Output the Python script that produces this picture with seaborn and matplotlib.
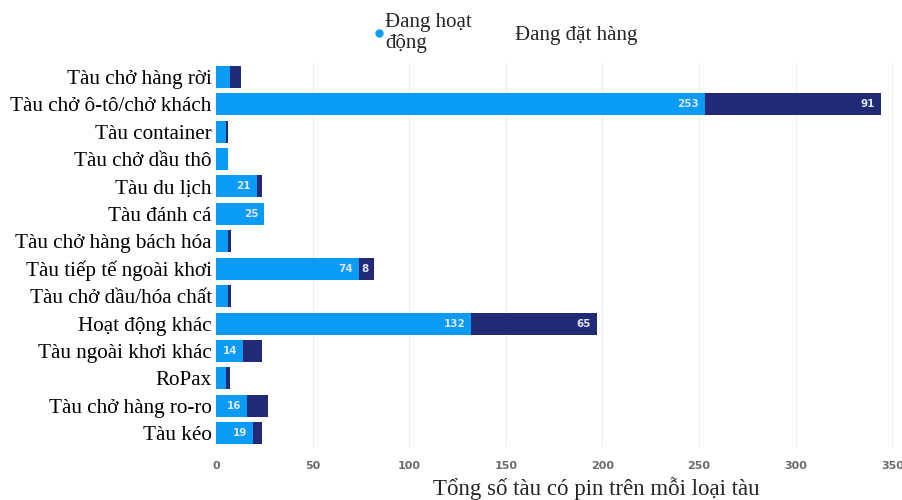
import matplotlib
matplotlib.use("Agg")
import matplotlib.pyplot as plt
from matplotlib.lines import Line2D
import seaborn as sns
import pandas as pd

categories = [
    "Tàu chở hàng rời", "Tàu chở ô-tô/chở khách", "Tàu container", "Tàu chở dầu thô",
    "Tàu du lịch", "Tàu đánh cá", "Tàu chở hàng bách hóa", "Tàu tiếp tế ngoài khơi",
    "Tàu chở dầu/hóa chất", "Hoạt động khác", "Tàu ngoài khơi khác", "RoPax",
    "Tàu chở hàng ro-ro", "Tàu kéo",
]
active = [7, 253, 5, 6, 21, 25, 6, 74, 6, 132, 14, 5, 16, 19]
ordered = [6, 91, 1, 0, 3, 0, 2, 8, 2, 65, 10, 2, 11, 5]
# which "ordered" segments carry a value label
ordered_labeled = [False, True, False, False, False, False, False, True,
                   False, True, False, False, False, False]
xticks = [0, 50, 100, 150, 200, 250, 300, 350]

BLUE = "#0A9BF7"
NAVY = "#222A78"

df = pd.DataFrame({"cat": categories, "active": active, "ordered": ordered})
df["total"] = df["active"] + df["ordered"]

sns.set_theme(style="white")
plt.rcParams["font.family"] = ["DejaVu Sans"]

fig = plt.figure(figsize=(9.02, 5.0), dpi=100)
ax = fig.add_axes([216 / 902, 53 / 500, 1 - 216 / 902, 384 / 500])

sns.barplot(data=df, x="total", y="cat", color=NAVY, width=0.8, ax=ax,
            saturation=1, orient="h", linewidth=0)
sns.barplot(data=df, x="active", y="cat", color=BLUE, width=0.8, ax=ax,
            saturation=1, orient="h", linewidth=0)

ax.set_xlim(0, 355)
ax.set_xticks(xticks)
ax.set_xticklabels([str(t) for t in xticks], fontsize=8, fontweight="bold",
                   color="#6b6b6b")
ax.tick_params(axis="x", length=0, pad=10)
ax.tick_params(axis="y", length=0, pad=3)
ax.set_yticks(range(len(categories)))
ax.set_yticklabels(categories, family="Liberation Serif", fontsize=15.2, color="black")
ax.set_xlabel("")
ax.set_ylabel("")
ax.xaxis.grid(True, color="#eeeeee", linewidth=0.8)
ax.set_axisbelow(True)
for s in ax.spines.values():
    s.set_visible(False)

# value labels inside the segments
for i, (a, o, lab) in enumerate(zip(active, ordered, ordered_labeled)):
    if a >= 14:
        ax.text(a - 3, i, str(a), ha="right", va="center", fontsize=7.5,
                fontweight="bold", color="#dde6f5")
    if lab:
        ax.text(a + o - 3, i, str(o), ha="right", va="center", fontsize=7.5,
                fontweight="bold", color="#dde6f5")

fig.text(596 / 902, 1 - 489 / 500, "Tổng số tàu có pin trên mỗi loại tàu",
         ha="center", va="center", family="Liberation Serif", fontsize=16.5)

handles = [
    Line2D([], [], marker="o", linestyle="", color=BLUE, markersize=5),
    Line2D([], [], marker="o", linestyle="", color=NAVY, markersize=0),
]
fig.legend(handles, ["Đang hoạt\nđộng", "Đang đặt hàng"], loc="center",
           bbox_to_anchor=(506 / 902, 1 - 33 / 500), ncol=2, frameon=False,
           prop={"family": "Liberation Serif", "size": 15}, handlelength=0.4,
           handletextpad=0.1, columnspacing=1.6, labelspacing=0.2)

fig.savefig("out.png", dpi=100)
